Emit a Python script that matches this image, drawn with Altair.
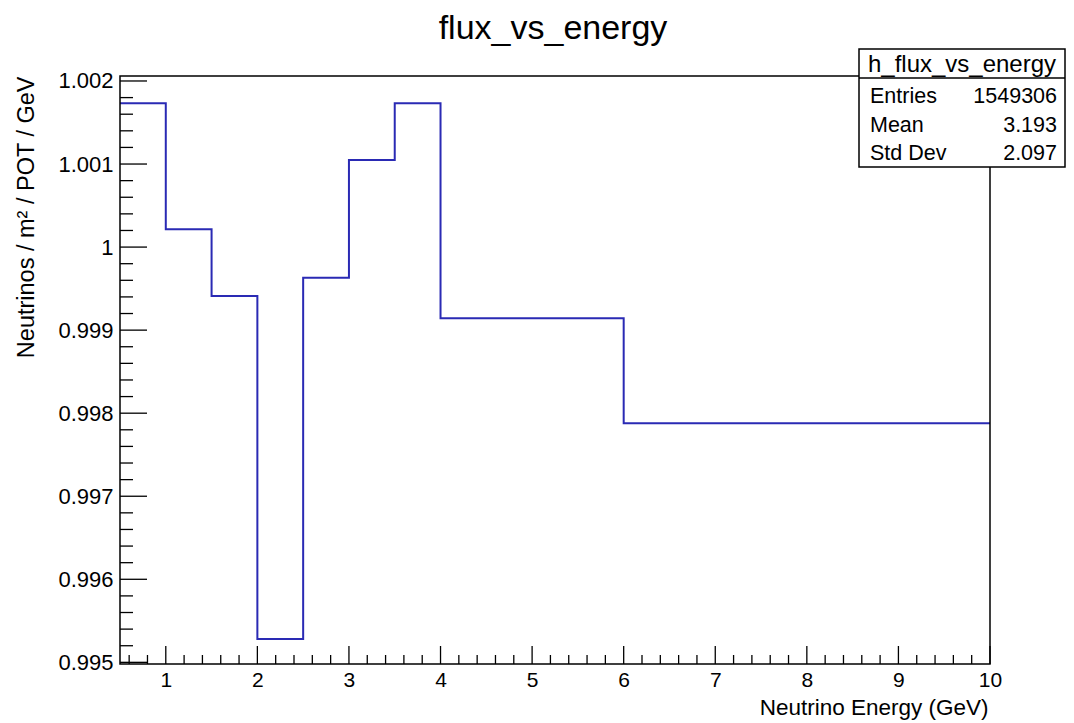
import altair as alt
import pandas as pd

# ---- data ----
bin_edges = [0.5, 1.0, 1.5, 2.0, 2.5, 3.0, 3.5, 4.0, 6.0, 10.0]
bin_values = [1.001731, 1.000214, 0.999411, 0.995281, 0.999631,
              1.001049, 1.001731, 0.999142, 0.997878]

x_major = [1, 2, 3, 4, 5, 6, 7, 8, 9, 10]
y_major = [0.995, 0.996, 0.997, 0.998, 0.999, 1.000, 1.001, 1.002]

stat_title = ["h_flux_vs_energy"]
stat_names = ["Entries", "Mean", "Std Dev"]
stat_values = ["1549306", "3.193", "2.097"]

chart_title = ["flux_vs_energy"]
x_title = "Neutrino Energy (GeV)"
y_title = "Neutrinos / m\u00b2 / POT / GeV"

x_domain = [0.5, 10.0]
y_domain = [0.99498, 1.00206]

# minor ticks (ROOT style: 5 subdivisions)
x_minor = [round(0.6 + 0.2 * i, 1) for i in range(47)]
x_minor = [v for v in x_minor if abs(v - round(v)) > 1e-6]
y_minor = [round(0.995 + 0.0002 * i, 4) for i in range(1, 35) if i % 5 != 0]

FONT = "Liberation Sans"
W, H = 870, 588
BLUE = "#2a2ab4"

# step line points
rows = []
for i, v in enumerate(bin_values):
    rows.append({"x": bin_edges[i], "y": v, "k": 2 * i})
    rows.append({"x": bin_edges[i + 1], "y": v, "k": 2 * i + 1})
hist_df = pd.DataFrame(rows)

xs = alt.Scale(domain=x_domain, nice=False, zero=False)
ys = alt.Scale(domain=y_domain, nice=False, zero=False)

hist = alt.Chart(hist_df).mark_line(color=BLUE, strokeWidth=2).encode(
    x=alt.X("x:Q", scale=xs, title=x_title,
            axis=alt.Axis(values=x_major, format="~g", titleX=W - 2, titleY=50,
                          titleAlign="right", titleBaseline="alphabetic",
                          labelFontSize=21, labelPadding=5, titleFontSize=22.5)),
    y=alt.Y("y:Q", scale=ys, title=y_title,
            axis=alt.Axis(values=y_major, format=".4~g", titleAngle=270,
                          titleX=-87, titleY=0, titleAlign="right",
                          titleBaseline="alphabetic", titleFontSize=23.5,
                          labelFontSize=22, labelPadding=7)),
    order=alt.Order("k:Q"),
)

tick_style = dict(color="black", strokeWidth=1.3)

y_major_ticks = alt.Chart(pd.DataFrame({"v": y_major})).mark_rule(**tick_style).encode(
    y=alt.Y("v:Q", scale=ys), x=alt.value(0), x2=alt.value(27))
y_minor_ticks = alt.Chart(pd.DataFrame({"v": y_minor})).mark_rule(**tick_style).encode(
    y=alt.Y("v:Q", scale=ys), x=alt.value(0), x2=alt.value(13))
x_major_ticks = alt.Chart(pd.DataFrame({"v": x_major})).mark_rule(**tick_style).encode(
    x=alt.X("v:Q", scale=xs), y=alt.value(H), y2=alt.value(H - 18))
x_minor_ticks = alt.Chart(pd.DataFrame({"v": x_minor})).mark_rule(**tick_style).encode(
    x=alt.X("v:Q", scale=xs), y=alt.value(H), y2=alt.value(H - 9))

one = pd.DataFrame({"t": stat_title})

# frame
frame = alt.Chart(one).mark_rect(
    fill="white", fillOpacity=0, stroke="black", strokeWidth=1.5).encode(
    x=alt.value(0), x2=alt.value(W), y=alt.value(0), y2=alt.value(H))

# chart title (centred over the frame)
title = alt.Chart(pd.DataFrame({"t": chart_title})).mark_text(
    font=FONT, fontSize=34, color="black", align="center", baseline="alphabetic").encode(
    x=alt.value(W / 2 - 2), y=alt.value(-37), text="t:N")

# stats box
BX0, BX1 = 739, 945
box = alt.Chart(one).mark_rect(
    fill="white", stroke="black", strokeWidth=1.5).encode(
    x=alt.value(BX0), x2=alt.value(BX1), y=alt.value(-27), y2=alt.value(91))
divider = alt.Chart(one).mark_rule(color="black", strokeWidth=1.5).encode(
    x=alt.value(BX0), x2=alt.value(BX1), y=alt.value(2))
box_title = alt.Chart(one).mark_text(
    font=FONT, fontSize=24, color="black", align="center", baseline="alphabetic").encode(
    x=alt.value((BX0 + BX1) / 2), y=alt.value(-4), text="t:N")
names = alt.Chart(pd.DataFrame({"t": ["\n".join(stat_names)]})).mark_text(
    font=FONT, fontSize=21.5, color="black", align="left", baseline="alphabetic",
    lineBreak="\n", lineHeight=28.5).encode(
    x=alt.value(750), y=alt.value(27), text="t:N")
vals = alt.Chart(pd.DataFrame({"t": ["\n".join(stat_values)]})).mark_text(
    font=FONT, fontSize=21.5, color="black", align="right", baseline="alphabetic",
    lineBreak="\n", lineHeight=28.5).encode(
    x=alt.value(BX1 - 8), y=alt.value(27), text="t:N")

chart = alt.layer(
    hist, y_minor_ticks, y_major_ticks, x_minor_ticks, x_major_ticks,
    frame, title, box, divider, box_title, names, vals,
).properties(
    width=W, height=H,
    padding={"left": 112, "top": 68, "right": 76, "bottom": 56},
    autosize=alt.AutoSizeParams(type="none"),
    background="white",
).configure_view(
    stroke=None
).configure_axis(
    ticks=False, domain=False, grid=False,
    labelFont=FONT, labelColor="black",
    labelOverlap=False, labelFlush=False,
    titleFont=FONT, titleFontWeight="normal", titleColor="black",
)

chart.save("out.html", embed_options={"renderer": "svg", "actions": False})
